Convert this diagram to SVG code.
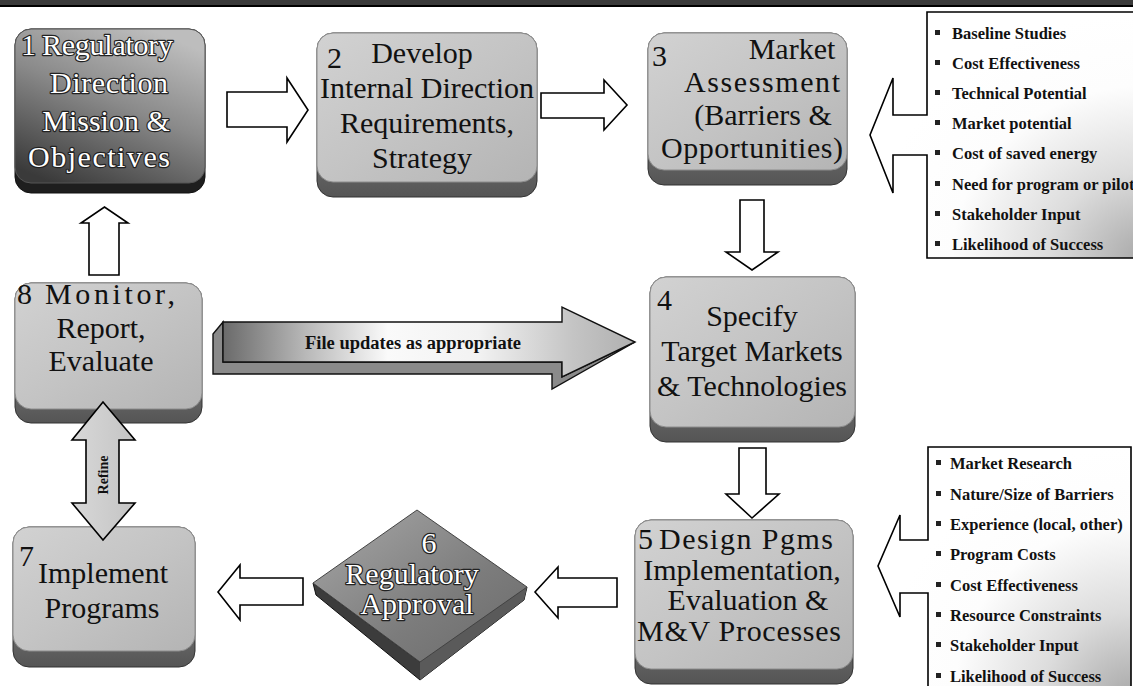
<svg xmlns="http://www.w3.org/2000/svg" width="1133" height="686" viewBox="0 0 1133 686">
<defs>
<linearGradient id="lightFace" x1="0" y1="0" x2="1" y2="1">
<stop offset="0" stop-color="#d2d2d2"/><stop offset="0.5" stop-color="#c4c4c4"/><stop offset="1" stop-color="#b4b4b4"/>
</linearGradient>
<linearGradient id="bevelGrad" x1="0" y1="0" x2="0" y2="1">
<stop offset="0" stop-color="#a4a4a4"/><stop offset="1" stop-color="#555"/>
</linearGradient>
<linearGradient id="darkFace" x1="0.7" y1="0" x2="0.2" y2="1">
<stop offset="0" stop-color="#bdbdbd"/><stop offset="0.45" stop-color="#8a8a8a"/><stop offset="1" stop-color="#3a3a3a"/>
</linearGradient>
<linearGradient id="diamondFace" x1="0" y1="0" x2="1" y2="1">
<stop offset="0" stop-color="#a8a8a8"/><stop offset="0.6" stop-color="#7c7c7c"/><stop offset="1" stop-color="#6a6a6a"/>
</linearGradient>
<linearGradient id="bigArrow" x1="223" y1="0" x2="635" y2="0" gradientUnits="userSpaceOnUse">
<stop offset="0" stop-color="#6a6a6a"/><stop offset="0.2" stop-color="#b8b8b8"/><stop offset="0.4" stop-color="#fafafa"/><stop offset="0.62" stop-color="#f2f2f2"/><stop offset="0.85" stop-color="#c4c4c4"/><stop offset="1" stop-color="#b0b0b0"/>
</linearGradient>
<radialGradient id="callout" cx="1" cy="1" r="1">
<stop offset="0" stop-color="#a8a8a8"/><stop offset="0.35" stop-color="#dcdcdc"/><stop offset="0.7" stop-color="#fdfdfd"/><stop offset="1" stop-color="#ffffff"/>
</radialGradient>
<linearGradient id="refineGrad" x1="0" y1="0" x2="1" y2="0">
<stop offset="0" stop-color="#d8d8d8"/><stop offset="1" stop-color="#c4c4c4"/>
</linearGradient>
</defs>
<style>
.face{fill:url(#lightFace);stroke:#8c8c8c;stroke-width:1}
.bevel{fill:url(#bevelGrad);stroke:#333;stroke-width:1}
.t{font-family:"Liberation Serif","Times New Roman",serif;font-size:30px;fill:#111}
.c{text-anchor:middle}
.w{fill:#fff;stroke:#222;stroke-width:2.4px;paint-order:stroke;stroke-linejoin:round}
.hollow{fill:#fff;stroke:#000;stroke-width:1.6;stroke-linejoin:miter}
.li{font-family:"Liberation Serif","Times New Roman",serif;font-weight:bold;font-size:16.5px;fill:#111}
.bul{fill:#222}
.callout{fill:url(#callout);stroke:#000;stroke-width:1.6}
</style>
<rect x="0" y="0" width="1133" height="6" fill="#3a3a3a"/>
<rect x="0" y="5" width="1133" height="2" fill="#000"/>

<g id="node1">
<rect x="15" y="29" width="190" height="164" rx="16" fill="#1e1e1e" stroke="#111"/>
<rect x="15" y="29" width="190" height="154" rx="16" fill="url(#darkFace)" stroke="#555"/>
<text class="t w" x="21" y="55">1</text>
<text class="t w" x="42" y="55" textLength="131">Regulatory</text>
<text class="t w c" x="109" y="93" textLength="118">Direction</text>
<text class="t w c" x="106" y="131">Mission &amp;</text>
<text class="t w c" x="99" y="167" font-size="32" textLength="142">Objectives</text>
</g>

<g id="node2">
<rect class="bevel" x="317" y="33" width="220" height="164" rx="16"/>
<rect class="face" x="317" y="33" width="220" height="149" rx="16"/>
<text class="t" x="327" y="68" font-size="36">2</text>
<text class="t c" x="422" y="63">Develop</text>
<text class="t c" x="427" y="98">Internal Direction</text>
<text class="t c" x="427" y="133">Requirements,</text>
<text class="t c" x="422" y="168">Strategy</text>
</g>

<g id="node3">
<rect class="bevel" x="648" y="33" width="199" height="152" rx="16"/>
<rect class="face" x="648" y="33" width="199" height="137" rx="16"/>
<text class="t" x="652" y="66" font-size="36">3</text>
<text class="t c" x="792" y="59">Market</text>
<text class="t c" x="762" y="92" font-size="32" textLength="156">Assessment</text>
<text class="t c" x="763" y="125">(Barriers &amp;</text>
<text class="t c" x="752" y="158" textLength="182">Opportunities)</text>
</g>

<g id="node4">
<rect class="bevel" x="650" y="277" width="205" height="165" rx="16"/>
<rect class="face" x="650" y="277" width="205" height="150" rx="16"/>
<text class="t" x="657" y="310" font-size="38">4</text>
<text class="t c" x="752" y="326">Specify</text>
<text class="t c" x="752" y="361">Target Markets</text>
<text class="t c" x="752" y="396">&amp; Technologies</text>
</g>

<g id="node5">
<rect class="bevel" x="635" y="520" width="218" height="164" rx="16"/>
<rect class="face" x="635" y="520" width="218" height="149" rx="16"/>
<text class="t" x="638" y="549" font-size="34">5</text>
<text class="t" x="659" y="549" font-size="32" textLength="174">Design Pgms</text>
<text class="t c" x="742" y="580">Implementation,</text>
<text class="t c" x="748" y="610">Evaluation &amp;</text>
<text class="t c" x="739" y="641" font-size="31" textLength="204">M&amp;V Processes</text>
</g>

<g id="node6">
<polygon points="313,583 420,662 527,587 524,600 420,680 316,595" fill="#3c3c3c" stroke="#111"/>
<polygon points="420,662 527,587 524,600 420,680" fill="#5a5a5a"/>
<polygon points="313,583 417,510 527,587 420,662" fill="url(#diamondFace)" stroke="#444"/>
<text class="t w c" x="429" y="553" font-size="32">6</text>
<text class="t w c" x="412" y="584" font-size="29">Regulatory</text>
<text class="t w c" x="417" y="614" font-size="30">Approval</text>
</g>

<g id="node7">
<rect class="bevel" x="13" y="527" width="182" height="140" rx="16"/>
<rect class="face" x="13" y="527" width="182" height="124" rx="16"/>
<text class="t" x="19" y="566" font-size="38">7</text>
<text class="t c" x="103" y="583">Implement</text>
<text class="t c" x="102" y="618">Programs</text>
</g>

<g id="node8">
<rect class="bevel" x="15" y="283" width="187" height="140" rx="16"/>
<rect class="face" x="15" y="283" width="187" height="126" rx="16"/>
<text class="t" x="17" y="304" font-size="34">8</text>
<text class="t" x="45" y="304" font-size="34" textLength="130">Monitor,</text>
<text class="t c" x="101" y="338">Report,</text>
<text class="t c" x="101" y="371">Evaluate</text>
</g>

<g id="list1">
<path class="callout" d="M927,12 L1145,12 L1145,258 L927,258 L927,155 L893,155 L893,193 L870,135 L893,78 L893,115 L927,115 Z"/>
<g class="bul">
<rect x="935" y="30" width="5" height="5"/><rect x="935" y="60" width="5" height="5"/><rect x="935" y="90" width="5" height="5"/><rect x="935" y="120" width="5" height="5"/><rect x="935" y="150" width="5" height="5"/><rect x="935" y="181" width="5" height="5"/><rect x="935" y="211" width="5" height="5"/><rect x="935" y="241" width="5" height="5"/>
</g>
<text class="li" x="952" y="39">Baseline Studies</text>
<text class="li" x="952" y="69">Cost Effectiveness</text>
<text class="li" x="952" y="99">Technical Potential</text>
<text class="li" x="952" y="129">Market potential</text>
<text class="li" x="952" y="159">Cost of saved energy</text>
<text class="li" x="952" y="190">Need for program or pilot</text>
<text class="li" x="952" y="220">Stakeholder Input</text>
<text class="li" x="952" y="250">Likelihood of Success</text>
</g>

<g id="list2">
<path class="callout" d="M928,447 L1131,447 L1131,700 L928,700 L928,593 L900,593 L900,617 L878,566 L900,515 L900,540 L928,540 Z"/>
<g class="bul">
<rect x="936" y="460" width="5" height="5"/><rect x="936" y="491" width="5" height="5"/><rect x="936" y="521" width="5" height="5"/><rect x="936" y="551" width="5" height="5"/><rect x="936" y="582" width="5" height="5"/><rect x="936" y="612" width="5" height="5"/><rect x="936" y="642" width="5" height="5"/><rect x="936" y="673" width="5" height="5"/>
</g>
<text class="li" x="950" y="469">Market Research</text>
<text class="li" x="950" y="500">Nature/Size of Barriers</text>
<text class="li" x="950" y="530">Experience (local, other)</text>
<text class="li" x="950" y="560">Program Costs</text>
<text class="li" x="950" y="591">Cost Effectiveness</text>
<text class="li" x="950" y="621">Resource Constraints</text>
<text class="li" x="950" y="651">Stakeholder Input</text>
<text class="li" x="950" y="682">Likelihood of Success</text>
</g>

<g id="connectors">
<path class="hollow" d="M227,92 L287,92 L287,78 L308,110 L287,142 L287,127 L227,127 Z"/>
<path class="hollow" d="M541,93 L604,93 L604,80 L627,105 L604,130 L604,118 L541,118 Z"/>
<path class="hollow" d="M740,200 L764,200 L764,252 L778,252 L752,270 L726,252 L740,252 Z"/>
<path class="hollow" d="M739,448 L766,448 L766,494 L779,494 L752,518 L726,494 L739,494 Z"/>
<path class="hollow" d="M617,578 L558,578 L558,567 L535,592 L558,618 L558,607 L617,607 Z"/>
<path class="hollow" d="M303,578 L240,578 L240,565 L218,592 L240,620 L240,605 L303,605 Z"/>
<path class="hollow" d="M89,275 L89,223 L81,223 L104.5,207 L128,223 L119,223 L119,275 Z"/>
<path d="M103,402 L135,440 L119,440 L119,503 L135,503 L103,540 L72,503 L86,503 L86,440 L72,440 Z" fill="url(#refineGrad)" stroke="#000" stroke-width="1.6"/>
<text transform="translate(108,475) rotate(-90)" text-anchor="middle" font-family="Liberation Serif, Times New Roman, serif" font-weight="bold" font-size="14" fill="#111">Refine</text>
<g id="fileUpdates">
<path d="M223,322 L213,334 L213,374 L552,374 L552,389 L635,342 L562,377 L562,362 L223,362 Z" fill="#8a8a8a" stroke="#111" stroke-width="1.4"/>
<path d="M223,322 L562,322 L562,307 L635,342 L562,377 L562,362 L223,362 Z" fill="url(#bigArrow)" stroke="#111" stroke-width="1.4"/>
<text x="413" y="349" text-anchor="middle" font-family="Liberation Serif, Times New Roman, serif" font-weight="bold" font-size="18.5" fill="#111">File updates as appropriate</text>
</g>
</g>
</svg>
